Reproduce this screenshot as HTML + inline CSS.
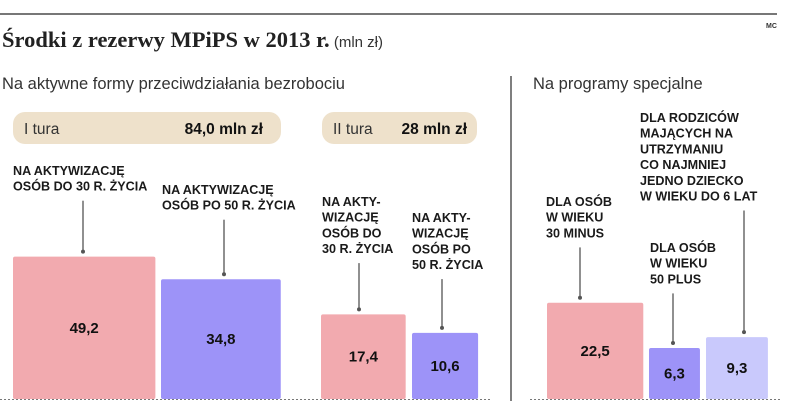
<!DOCTYPE html>
<html><head><meta charset="utf-8"><style>
body{margin:0;background:#fff;}
svg{display:block;font-family:"Liberation Sans",sans-serif;}
.lbl{font-size:12.6px;font-weight:bold;fill:#1a1a1a;}
.val{font-size:15px;font-weight:bold;fill:#111;text-anchor:middle;}
</style></head><body>
<svg id="chart" width="805" height="412" viewBox="0 0 805 412">
<line x1="0" y1="14" x2="777" y2="14" stroke="#777" stroke-width="2"/>
<text x="766" y="28" font-size="7" font-weight="bold" fill="#333">MC</text>
<text x="2" y="47"><tspan font-family="Liberation Serif,serif" font-weight="bold" font-size="22.5" fill="#222">Środki z rezerwy MPiPS w 2013 r.</tspan><tspan font-size="15" fill="#333"> (mln zł)</tspan></text>
<text x="2" y="89" font-size="16.5" fill="#333">Na aktywne formy przeciwdziałania bezrobociu</text>
<text x="533" y="89" font-size="16.5" fill="#333">Na programy specjalne</text>
<line x1="511" y1="76" x2="511" y2="401" stroke="#555" stroke-width="1.5"/>
<rect x="13" y="112" width="268" height="32" rx="12" fill="#eee1cb"/>
<text x="24" y="134" font-size="15.5" fill="#333">I tura</text>
<text x="263" y="134" font-size="15.5" font-weight="bold" fill="#111" text-anchor="end">84,0 mln zł</text>
<rect x="322" y="112" width="155" height="32" rx="12" fill="#eee1cb"/>
<text x="333" y="134" font-size="15.5" fill="#333">II tura</text>
<text x="467" y="134" font-size="15.5" font-weight="bold" fill="#111" text-anchor="end">28 mln zł</text>
<line x1="0" y1="399.5" x2="492" y2="399.5" stroke="#777" stroke-dasharray="2,2"/>
<line x1="530" y1="399.5" x2="780" y2="399.5" stroke="#777" stroke-dasharray="2,2"/>
<g id="bars"></g>
</svg>
<script>
const categories=["aktywizacja-do-30-t1","aktywizacja-po-50-t1","aktywizacja-do-30-t2","aktywizacja-po-50-t2","30-minus","50-plus","rodzice"];
const values=[49.2,34.8,17.4,10.6,22.5,6.3,9.3];
const valueLabels=["49,2","34,8","17,4","10,6","22,5","6,3","9,3"];
const labelLines=[["NA AKTYWIZACJĘ","OSÓB DO 30 R. ŻYCIA"],["NA AKTYWIZACJĘ","OSÓB PO 50 R. ŻYCIA"],["NA AKTY-","WIZACJĘ","OSÓB DO","30 R. ŻYCIA"],["NA AKTY-","WIZACJĘ","OSÓB PO","50 R. ŻYCIA"],["DLA OSÓB","W WIEKU","30 MINUS"],["DLA OSÓB","W WIEKU","50 PLUS"],["DLA RODZICÓW","MAJĄCYCH NA","UTRZYMANIU","CO NAJMNIEJ","JEDNO DZIECKO","W WIEKU DO 6 LAT"]];
// layout (not data)
const barX=[13,161,321,412,547,649,706];
const labX=[13,162,322,412,546,650,640];
const labY=[175,194,206,222,206,252,122];
const leadX=[83,224,359,442,580,673,744];
const colors=["#f2aaaf","#9d93f8","#f2aaaf","#9d93f8","#f2aaaf","#9d93f8","#c9c9fc"];
const baseY=399, k=20.3;
function side(v){return k*Math.sqrt(v);}
const NS="http://www.w3.org/2000/svg";
const g=document.getElementById('bars');
function mk(t,a){const e=document.createElementNS(NS,t);for(const n in a)e.setAttribute(n,a[n]);g.appendChild(e);return e;}
values.forEach((v,i)=>{
  const s=side(v), top=baseY-s;
  const r=mk('rect',{x:barX[i],y:top,width:s,height:s,rx:2,fill:colors[i]});
  
  
  const t=mk('text',{x:barX[i]+s/2,y:top+s/2+5,class:'val'});
  t.textContent=valueLabels[i];
  
  
  const lines=labelLines[i];
  const lt=mk('text',{x:labX[i],y:labY[i],class:'lbl'});
  
  
  lines.forEach((ln,j)=>{const ts=document.createElementNS(NS,'tspan');ts.setAttribute('x',labX[i]);ts.setAttribute('y',labY[i]+j*15.7);ts.textContent=ln;lt.appendChild(ts);});
  const ly=labY[i]+(lines.length-1)*15.7+10;
  const l=mk('line',{x1:leadX[i],y1:ly,x2:leadX[i],y2:top-5,stroke:'#555','stroke-width':1.3});
  
  
  const d=mk('circle',{cx:leadX[i],cy:top-5,r:2,fill:'#555'});
  
  
});
</script>
</body></html>
